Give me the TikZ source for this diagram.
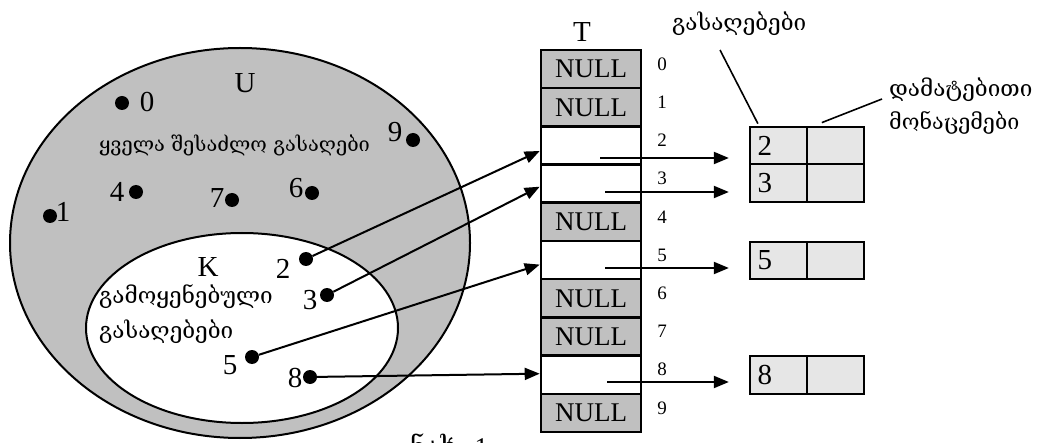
\documentclass[tikz,border=0pt]{standalone}
\usepackage{fontspec}
\setmainfont{Liberation Serif}
\newfontfamily\geo{DejaVu Serif}
\usetikzlibrary{arrows.meta}
\definecolor{setgray}{HTML}{C0C0C0}
\definecolor{cellgray}{HTML}{E6E6E6}
\begin{document}
\begin{tikzpicture}[x=1pt,y=-1pt,
  num/.style={font=\fontsize{29}{29}\selectfont, inner sep=0pt},
  idx/.style={font=\fontsize{19}{19}\selectfont, inner sep=0pt},
  geotext/.style={font=\geo\fontsize{22.5}{22.5}\selectfont, inner sep=0pt, anchor=base west},
  dot/.style={circle, fill=black, inner sep=0pt, minimum size=14pt},
  slot/.style={draw, line width=2.6pt, minimum width=100pt, minimum height=38.2pt, inner sep=0pt, font=\fontsize{27}{27}\selectfont},
  nullslot/.style={slot, fill=setgray},
  keycell/.style={draw, line width=2.3pt, fill=cellgray, minimum height=37.5pt, text width=42pt, inner xsep=7.5pt, inner ysep=0pt, align=left, font=\fontsize{29}{29}\selectfont},
  datacell/.style={draw, line width=2.3pt, fill=cellgray, minimum height=37.5pt, minimum width=57pt, inner sep=0pt},
  ptr/.style={line width=2pt, -{Triangle[length=15pt,width=12pt]}},
  callout/.style={line width=1.6pt},
]
\useasboundingbox (0,0) rectangle (1040,443);

% universe U and the set K of used keys
\draw[line width=2pt, fill=setgray] (240,243) ellipse [x radius=230, y radius=195];
\draw[line width=2pt, fill=white] (242,328) ellipse [x radius=156, y radius=95];

\node[num] (U) at (245,83) {U};
\node[num] (K) at (208,267) {K};
\node[geotext, anchor=base, font=\geo\fontsize{20}{20}\selectfont] (allkeys) at (234.5,152) {ყველა შესაძლო გასაღები};
\node[geotext] (used1) at (99,303) {გამოყენებული};
\node[geotext] (used2) at (99,338) {გასაღებები};

% keys as dots with their numbers
\node[dot] (d0) at (122,103) {};  \node[num] (l0) at (147,102) {0};
\node[dot] (d9) at (413,140) {};  \node[num] (l9) at (395,132) {9};
\node[dot] (d4) at (136,192) {};  \node[num] (l4) at (117,192) {4};
\node[dot] (d7) at (232,200) {};  \node[num] (l7) at (217,198) {7};
\node[dot] (d6) at (312,193) {};  \node[num] (l6) at (296,188) {6};
\node[dot] (d1) at (50,216) {};   \node[num] (l1) at (63,212) {1};
\node[dot] (d2) at (306,259) {};  \node[num] (l2) at (283,269) {2};
\node[dot] (d3) at (327,295) {};  \node[num] (l3) at (310,300) {3};
\node[dot] (d5) at (252,357) {};  \node[num] (l5) at (230,365) {5};
\node[dot] (d8) at (310,377) {};  \node[num] (l8) at (295,378) {8};

% direct-address table T
\node[num] (Tlab) at (582,32) {T};
\node[nullslot] (T0) at (591,69.1) {NULL};
\node[nullslot] (T1) at (591,107.3) {NULL};
\node[slot] (T2) at (591,145.5) {};
\node[slot] (T3) at (591,183.7) {};
\node[nullslot] (T4) at (591,221.9) {NULL};
\node[slot] (T5) at (591,260.1) {};
\node[nullslot] (T6) at (591,298.3) {NULL};
\node[nullslot] (T7) at (591,336.5) {NULL};
\node[slot] (T8) at (591,374.7) {};
\node[nullslot] (T9) at (591,412.9) {NULL};
\foreach \i in {0,...,9}
  \node[idx] (n\i) at (662,{50+38.2*(\i+0.5)-5}) {\i};

% records: key and satellite data
\node[keycell] (R2k) at (778.5,145.5) {2};
\node[datacell] (R2d) at (835.5,145.5) {};
\node[keycell] (R3k) at (778.5,183) {3};
\node[datacell] (R3d) at (835.5,183) {};
\node[keycell] (R5k) at (778.5,260.5) {5};
\node[datacell] (R5d) at (835.5,260.5) {};
\node[keycell] (R8k) at (778.5,375) {8};
\node[datacell] (R8d) at (835.5,375) {};

% pointers from the table to the records
\coordinate (p2) at (600,158);
\coordinate (p3) at (605,192);
\coordinate (p5) at (605,268);
\coordinate (p8) at (607,382);
\draw[ptr, shorten >=20pt] (p2) -- (p2 -| R2k.west);
\draw[ptr, shorten >=20pt] (p3) -- (p3 -| R3k.west);
\draw[ptr, shorten >=20pt] (p5) -- (p5 -| R5k.west);
\draw[ptr, shorten >=20pt] (p8) -- (p8 -| R8k.west);

% keys mapped to their slots
\draw[ptr] (d2) -- ([yshift=-5.5pt]T2.west);
\draw[ptr] (d3) -- ([yshift=-3pt]T3.west);
\draw[ptr] (d5) -- ([yshift=-4.5pt]T5.west);
\draw[ptr] (d8) -- ([yshift=1pt]T8.west);

% callouts
\node[geotext] (keys) at (672,31) {გასაღებები};
\node[geotext] (extra1) at (889,97) {დამატებითი};
\node[geotext, font=\geo\fontsize{21.5}{21.5}\selectfont] (extra2) at (889,130) {მონაცემები};
\coordinate (c1) at (720,50);
\coordinate (c2) at (882,99);
\draw[callout] (c1) -- ([xshift=9pt,yshift=2pt]R2k.north west);
\draw[callout] (c2) -- ([xshift=16pt,yshift=3pt]R2d.north west);

% caption
\node[anchor=base west, inner sep=0pt, font=\fontsize{27}{27}\selectfont] (cap) at (410,456) {{\geo ნახ.} 1};
\end{tikzpicture}
\end{document}
